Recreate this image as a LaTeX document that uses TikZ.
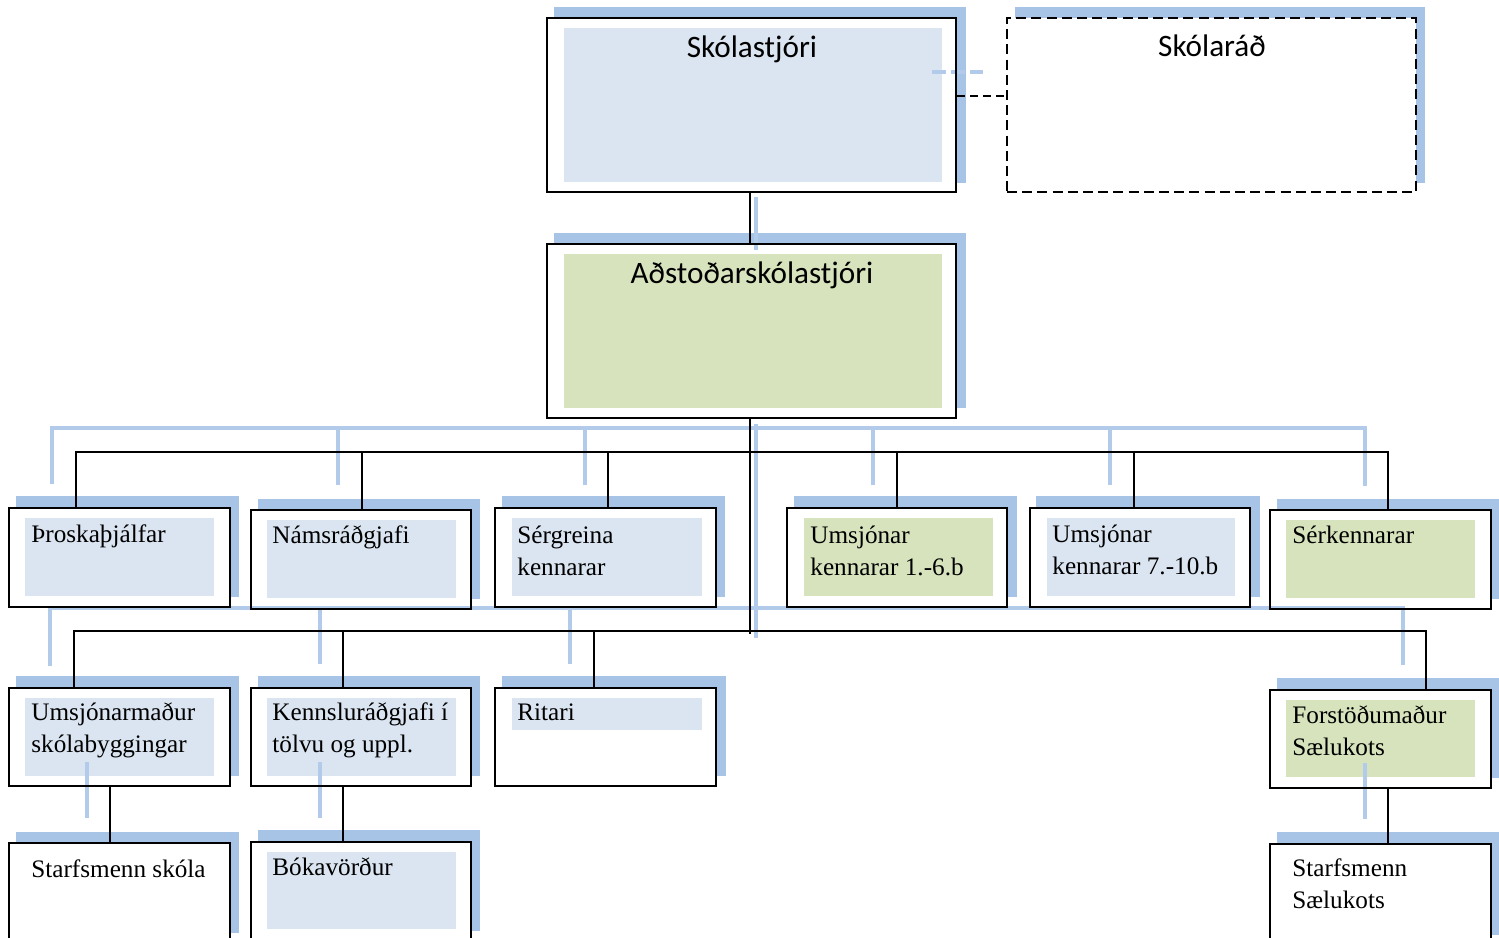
\documentclass[tikz,border=0pt]{standalone}
\usepackage{fontspec}
\setmainfont{Liberation Serif}
\newfontfamily\calibfont{Carlito}
\usetikzlibrary{fit}
\definecolor{shadowblue}{HTML}{A7C3E6}
\definecolor{paleblue}{HTML}{DBE5F1}
\definecolor{palegreen}{HTML}{D7E3BC}
\definecolor{ghost}{HTML}{B3CBEB}
\tikzset{
  box/.style={draw=black, line width=1.2pt, inner sep=0pt},
  dashbox/.style={draw=black, line width=1.1pt, inner sep=0pt, dash pattern=on 5pt off 2.6pt},
  lbl/.style={anchor=base west, inner sep=0pt, align=left, font=\fontsize{12.6}{15.8}\selectfont},
  hlbl/.style={anchor=base, inner sep=0pt, font=\calibfont\fontsize{15.6}{19}\selectfont},
  conn/.style={draw=black, line width=1pt},
  ghostline/.style={draw=ghost, line width=1.6pt},
}
\begin{document}
\begin{tikzpicture}[x=0.5pt,y=-0.5pt]
\useasboundingbox (0,0) rectangle (1499,937);
\fill[white] (0,0) rectangle (1499,937);
% ---- shadows
\foreach \a/\b/\c/\d in {554/7/966/183, 1015/7/1425/183, 554/233/966/408,
  16/496/239/597, 258/499/480/599, 502/496/725/597, 794/496/1017/597, 1036/496/1260/597, 1277/499/1500/599,
  16/676/239/776, 258/676/480/776, 502/676/726/776, 1277/678/1500/778,
  16/832/239/933, 258/830/480/931, 1277/832/1500/935}
  \fill[shadowblue] (\a,\b) rectangle (\c,\d);
% ---- white box bodies
\foreach \a/\b/\c/\d in {547/18/956/192, 1007/18/1416/192, 547/244/956/418,
  9/508/230/607, 251/510/471/609, 495/508/716/607, 787/508/1007/607, 1030/508/1250/607, 1270/510/1491/609,
  9/688/230/786, 251/688/471/786, 495/688/716/786, 1270/690/1491/788,
  9/843/230/960, 251/842/471/960, 1270/844/1491/960}
  \fill[white] (\a,\b) rectangle (\c,\d);
% ---- inner fills
\foreach \a/\b/\c/\d in {564/28/942/182, 25/518/214/596, 267/520/456/598, 512/518/702/596,
  1047/518/1235/596, 25/698/214/776, 267/698/456/776, 512/698/702/730, 267/852/456/929}
  \fill[paleblue] (\a,\b) rectangle (\c,\d);
\foreach \a/\b/\c/\d in {564/254/942/408, 804/518/993/596, 1286/520/1475/598, 1286/700/1475/777}
  \fill[palegreen] (\a,\b) rectangle (\c,\d);
% ---- ghost lines
\draw[ghostline] (756,197) -- (756,250);
\draw[ghostline, dash pattern=on 7pt off 2.5pt] (932,72) -- (983,72);
\draw[ghostline] (52,484) -- (52,428) -- (1365,428) -- (1365,486);
\foreach \x in {338,585,873,1110} \draw[ghostline] (\x,428) -- (\x,485);
\draw[ghostline] (756,424) -- (756,638);
\draw[ghostline] (50,666) -- (50,608) -- (1403,608) -- (1403,665);
\foreach \x in {320,570} \draw[ghostline] (\x,608) -- (\x,664);
\draw[ghostline] (87,762) -- (87,818);
\draw[ghostline] (320,762) -- (320,818);
\draw[ghostline] (1365,763) -- (1365,819);
% ---- boxes (borders)
\node[box, fit={(547,18) (956,192)}] (skst) {};
\node[dashbox, fit={(1007,18) (1416,192)}] (skrad) {};
\node[box, fit={(547,244) (956,418)}] (adst) {};
\node[box, fit={(9,508) (230,607)}] (thr) {};
\node[box, fit={(251,510) (471,609)}] (nams) {};
\node[box, fit={(495,508) (716,607)}] (serg) {};
\node[box, fit={(787,508) (1007,607)}] (ums1) {};
\node[box, fit={(1030,508) (1250,607)}] (ums2) {};
\node[box, fit={(1270,510) (1491,609)}] (serk) {};
\node[box, fit={(9,688) (230,786)}] (umsm) {};
\node[box, fit={(251,688) (471,786)}] (kenn) {};
\node[box, fit={(495,688) (716,786)}] (rit) {};
\node[box, fit={(1270,690) (1491,788)}] (forst) {};
\node[box, fit={(9,843) (230,960)}] (stsk) {};
\node[box, fit={(251,842) (471,960)}] (bok) {};
\node[box, fit={(1270,844) (1491,960)}] (stsae) {};
% ---- connector points
\coordinate (trunk) at (750,0);
\coordinate (dl) at (0,96);
\coordinate (d1) at (76,452);
\coordinate (d2) at (362,452);
\coordinate (d3) at (608,452);
\coordinate (d4) at (897,452);
\coordinate (d5) at (1134,452);
\coordinate (d6) at (1388,452);
\coordinate (e1) at (74,631);
\coordinate (e2) at (343,631);
\coordinate (e3) at (594,631);
\coordinate (e4) at (1426,631);
\coordinate (f1) at (110,0);
% ---- connectors
\draw[conn] (skst.south -| trunk) -- (adst.north -| trunk);
\draw[conn, dash pattern=on 4pt off 2.5pt] (skst.east |- dl) -- (skrad.west |- dl);
\draw[conn] (adst.south -| trunk) -- ([yshift=-1.5pt]trunk |- e1);
\draw[conn] (thr.north -| d1) -- (d1) -- (d6) -- (serk.north -| d6);
\draw[conn] (nams.north -| d2) -- (d2);
\draw[conn] (serg.north -| d3) -- (d3);
\draw[conn] (ums1.north -| d4) -- (d4);
\draw[conn] (ums2.north -| d5) -- (d5);
\draw[conn] (umsm.north -| e1) -- (e1) -- (e4) -- (forst.north -| e4);
\draw[conn] (kenn.north -| e2) -- (e2);
\draw[conn] (rit.north -| e3) -- (e3);
\draw[conn] (umsm.south -| f1) -- (stsk.north -| f1);
\draw[conn] (kenn.south -| e2) -- (bok.north -| e2);
\draw[conn] (forst.south -| d6) -- (stsae.north -| d6);
% ---- labels (multi-line labels are placed by their last baseline)
\node[hlbl] (t-skst) at (752,57) {Skólastjóri};
\node[hlbl] (t-skrad) at (1212,56) {Skólaráð};
\node[hlbl] (t-adst) at (752,283) {Aðstoðarskólastjóri};
\node[lbl] (t-thr) at (31,542) {Þroskaþjálfar};
\node[lbl] (t-nams) at (272,543) {Námsráðgjafi};
\node[lbl] (t-serg) at (517,575) {Sérgreina\\kennarar};
\node[lbl] (t-ums1) at (810,575) {Umsjónar\\kennarar 1.-6.b};
\node[lbl] (t-ums2) at (1052,574) {Umsjónar\\kennarar 7.-10.b};
\node[lbl] (t-serk) at (1292,543) {Sérkennarar};
\node[lbl] (t-umsm) at (31,752) {Umsjónarmaður\\skólabyggingar};
\node[lbl] (t-kenn) at (272,752) {Kennsluráðgjafi í\\tölvu og uppl.};
\node[lbl] (t-rit) at (517,720) {Ritari};
\node[lbl] (t-forst) at (1292,755) {Forstöðumaður\\Sælukots};
\node[lbl] (t-stsk) at (31,877) {Starfsmenn skóla};
\node[lbl] (t-bok) at (272,875) {Bókavörður};
\node[lbl] (t-stsae) at (1292,908) {Starfsmenn\\Sælukots};
\end{tikzpicture}
\end{document}
